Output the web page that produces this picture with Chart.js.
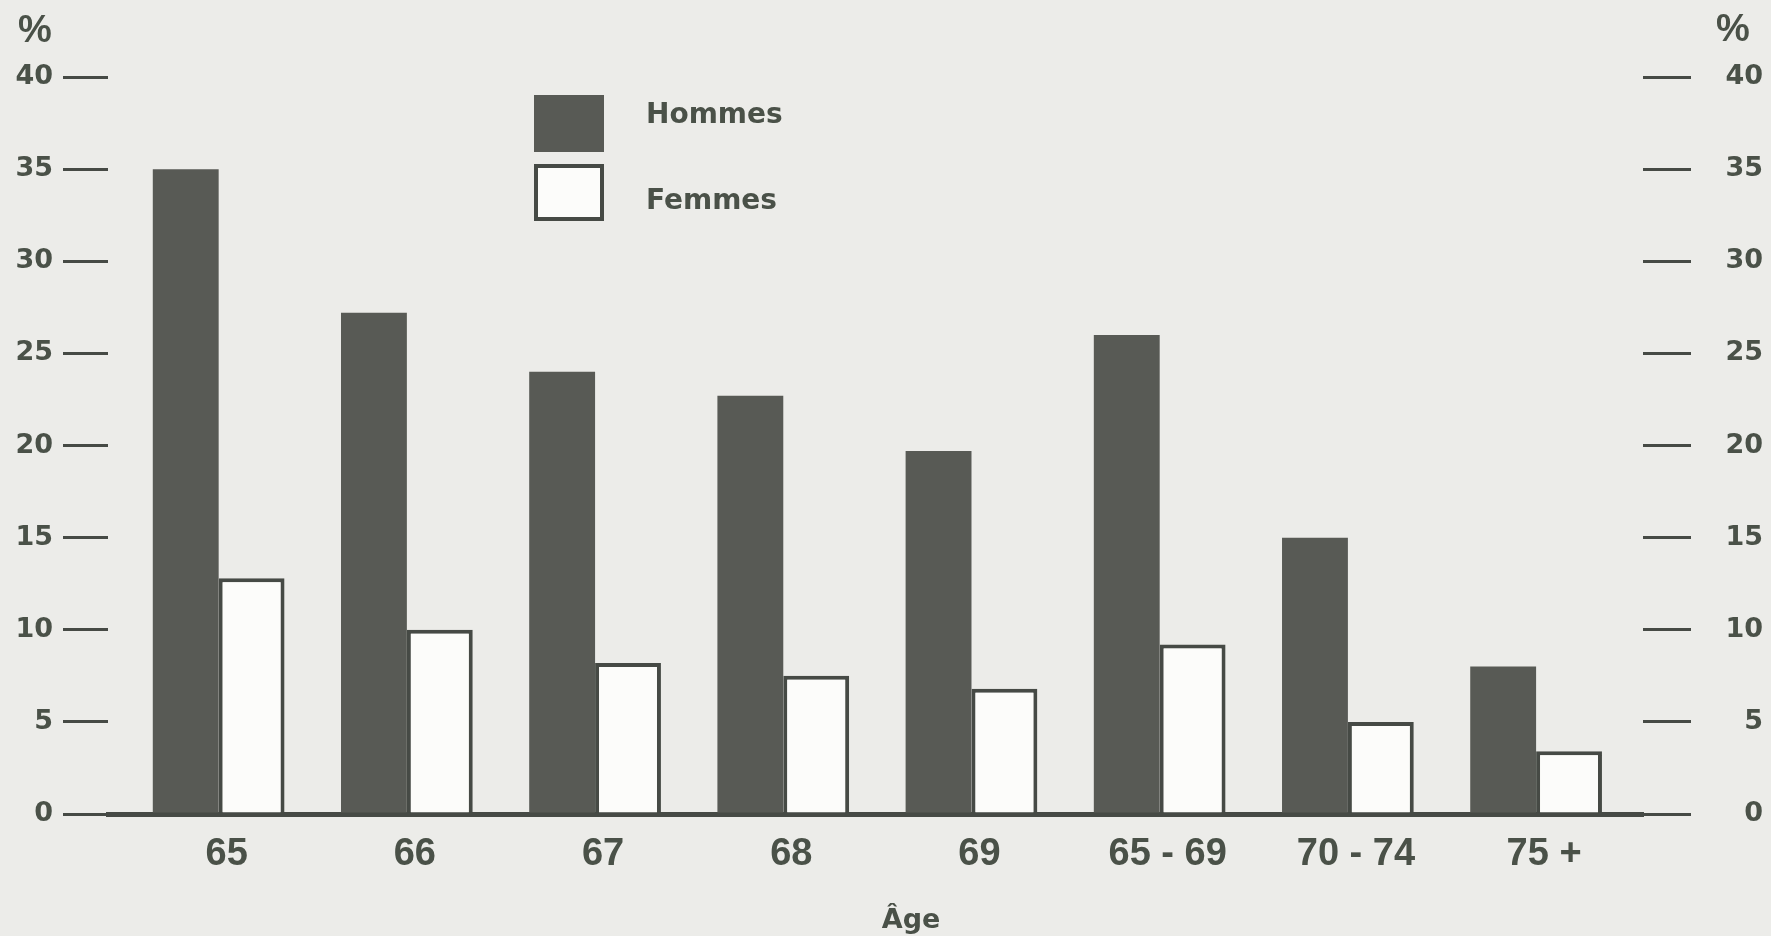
<!DOCTYPE html>
<html lang="fr">
<head>
<meta charset="utf-8">
<title>Hommes et femmes selon l'âge</title>
<script src="https://cdn.jsdelivr.net/npm/chart.js@4.4.1/dist/chart.umd.min.js"></script>
<style>
html, body { margin: 0; padding: 0; background: #ecece9; }
.chart-box { width: 1771px; height: 936px; position: relative; }
</style>
</head>
<body>
<div class="chart-box"><canvas id="ageChart"></canvas></div>
<script>
// categories and values (%)
const ageLabels = ["65", "66", "67", "68", "69", "65 - 69", "70 - 74", "75 +"];
const hommes = [35, 27.2, 24, 22.7, 19.7, 26, 15, 8];
const femmes = [12.8, 10, 8.2, 7.5, 6.8, 9.2, 5, 3.4];
const seriesNames = ["Hommes", "Femmes"];
const pctMin = 0, pctMax = 40, pctStep = 5;

const ink = "#4a5148";
const dark = "#585a55";
const line = "#464a45";
const tickFont = { family: "'DejaVu Sans'", size: 27, weight: "bold" };
const catFont = { family: "'Liberation Sans'", size: 38, weight: "bold" };

// legend boxes, the two "%" and the "Âge" caption
const extras = {
    id: "extras",
    afterDraw(chart) {
        const ctx = chart.ctx;
        ctx.save();
        ctx.fillStyle = ink;
        ctx.textBaseline = "middle";
        ctx.textAlign = "center";
        ctx.font = "bold 38px 'Liberation Sans'";
        ctx.fillText("%", 35, 32);
        ctx.fillText("%", 1733, 31);

        chart.data.datasets.forEach(function (ds, i) {
            const bx = 534, by = 95 + i * 69, bw = 70, bh = 57;
            ctx.fillStyle = ds.backgroundColor;
            ctx.fillRect(bx, by, bw, bh);
            if (ds.borderWidth) {
                ctx.lineWidth = ds.borderWidth;
                ctx.strokeStyle = ds.borderColor;
                ctx.strokeRect(bx + 2, by + 2, bw - 4, bh - 4);
            }
            ctx.fillStyle = ink;
            ctx.textAlign = "left";
            ctx.font = "bold 28px 'DejaVu Sans'";
            ctx.fillText(ds.label, 646, by + 21 + i * 17);
        });

        ctx.textAlign = "center";
        ctx.textBaseline = "alphabetic";
        ctx.font = "bold 27px 'DejaVu Sans'";
        ctx.fillText("Âge", 911, 928);
        ctx.restore();
    }
};

const ctx = document.getElementById("ageChart").getContext("2d");
new Chart(ctx, {
    type: "bar",
    data: {
        datasets: [{
            label: seriesNames[0],
            data: hommes.map((v, i) => ({ x: i, y: v })),
            backgroundColor: dark,
            borderWidth: 0
        }, {
            label: seriesNames[1],
            data: femmes.map((v, i) => ({ x: i, y: v })),
            backgroundColor: "#fcfcfa",
            borderColor: line,
            borderWidth: 4,
            borderSkipped: "bottom"
        }]
    },
    options: {
        responsive: true,
        maintainAspectRatio: false,
        animation: false,
        categoryPercentage: 0.70,
        barPercentage: 1.0,
        layout: { padding: { top: 77, right: 8, bottom: 0, left: 0 } },
        plugins: {
            legend: { display: false },
            tooltip: { enabled: false }
        },
        scales: {
            x: {
                type: "linear",
                offset: false,
                min: -0.588,
                max: 7.568,
                afterBuildTicks: function (scale) {
                    scale.ticks = ageLabels.map((l, i) => ({ value: i }));
                },
                afterFit: function (scale) { scale.height = 122; },
                grid: { display: false, drawTicks: false, offset: false },
                border: { display: true, color: line, width: 5 },
                ticks: {
                    callback: (value) => ageLabels[value],
                    color: ink,
                    font: catFont,
                    padding: 18,
                    labelOffset: 8,
                    maxRotation: 0,
                    autoSkip: false
                }
            },
            y: {
                position: "left",
                min: pctMin,
                max: pctMax,
                afterFit: function (scale) { scale.width = 108; },
                grid: { drawOnChartArea: false, drawTicks: true, tickLength: 45, lineWidth: 3, color: line },
                border: { display: false },
                ticks: { stepSize: pctStep, color: ink, font: tickFont, padding: 10 }
            },
            y2: {
                position: "right",
                min: pctMin,
                max: pctMax,
                afterFit: function (scale) { scale.width = 120; },
                grid: { drawOnChartArea: false, drawTicks: true, tickLength: 48, lineWidth: 3, color: line },
                border: { display: false },
                ticks: { stepSize: pctStep, color: ink, font: tickFont, padding: 6, crossAlign: "far" }
            }
        }
    },
    plugins: [extras]
});
</script>
</body>
</html>
